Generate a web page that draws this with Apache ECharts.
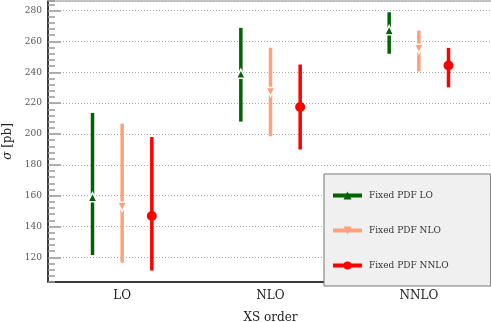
<!DOCTYPE html>
<html>
<head>
<meta charset="utf-8">
<script src="https://cdn.jsdelivr.net/npm/echarts@6/dist/echarts.min.js"></script>
<style>
  html, body { margin: 0; padding: 0; background: #fff; }
  #chart { width: 491px; height: 322px; }
</style>
</head>
<body>
<div id="chart"></div>
<script>
const categories = ['LO', 'NLO', 'NNLO']

// Fixed PDF LO
const loCenter = [159.0, 239.0, 267.3]
const loLow = [121.5, 208.0, 252.0]
const loHigh = [213.5, 268.8, 278.9]
// Fixed PDF NLO
const nloCenter = [152.8, 227.2, 255.2]
const nloLow = [116.6, 198.5, 240.5]
const nloHigh = [206.7, 255.9, 267.0]
// Fixed PDF NNLO
const nnloCenter = [146.8, 217.5, 244.4]
const nnloLow = [111.4, 189.9, 230.2]
const nnloHigh = [198.0, 245.0, 255.8]

const FONT = '"DejaVu Serif", "Liberation Serif", serif'
const Y_MIN = 104
const Y_MAX = 286.2

const groups = [
  { name: 'Fixed PDF LO', color: '#006400', symbol: 'triangle', rotate: 0, size: 9, border: 1.5, center: loCenter, low: loLow, high: loHigh, shift: -0.2 },
  { name: 'Fixed PDF NLO', color: '#ffa07a', symbol: 'triangle', rotate: 180, size: 9, border: 1.5, center: nloCenter, low: nloLow, high: nloHigh, shift: 0 },
  { name: 'Fixed PDF NNLO', color: '#ff0000', symbol: 'circle', rotate: 0, size: 10, border: 0, center: nnloCenter, low: nnloLow, high: nnloHigh, shift: 0.2 },
]

const series = []
groups.forEach(g => {
  // error bar
  series.push({
    type: 'custom',
    name: g.name + ' band',
    xAxisIndex: 1,
    yAxisIndex: 0,
    silent: true,
    z: 2,
    data: categories.map((c, i) => [i + g.shift, g.low[i], g.high[i]]),
    renderItem: (params, api) => {
      const p0 = api.coord([api.value(0), api.value(1)])
      const p1 = api.coord([api.value(0), api.value(2)])
      return {
        type: 'line',
        shape: { x1: p0[0], y1: p0[1], x2: p1[0], y2: p1[1] },
        style: { stroke: g.color, lineWidth: 3.5 },
      }
    },
  })
  // central value marker
  series.push({
    type: 'line',
    name: g.name,
    xAxisIndex: 1,
    yAxisIndex: 0,
    z: 3,
    data: categories.map((c, i) => [i + g.shift, g.center[i]]),
    symbol: g.symbol,
    symbolRotate: g.rotate,
    symbolSize: g.size,
    showAllSymbol: true,
    itemStyle: { color: g.color, borderColor: '#fff', borderWidth: g.border },
    lineStyle: { color: g.color, width: 4, opacity: 0 },
  })
})

const chart = echarts.init(document.getElementById('chart'))
chart.setOption({
  animation: false,
  textStyle: { fontFamily: FONT },
  grid: {
    left: 48, right: -2, top: 1, bottom: 40,
    containLabel: false, outerBoundsMode: 'none',
    show: true, borderColor: '#888', borderWidth: 1,
  },
  legend: {
    orient: 'vertical',
    left: 324,
    top: 174,
    padding: [17, 42, 16, 7],
    itemGap: 26,
    itemWidth: 29,
    itemHeight: 10,
    backgroundColor: '#f0f0f0',
    borderColor: '#777',
    borderWidth: 1,
    borderRadius: 0,
    data: groups.map(g => g.name),
    lineStyle: { width: 4, opacity: 1 },
    itemStyle: { borderWidth: 0 },
    textStyle: { fontFamily: FONT, fontSize: 9, color: '#333', padding: [8, 0, 0, 2] },
  },
  xAxis: [
    {
      type: 'category',
      data: categories,
      boundaryGap: true,
      name: 'XS order',
      nameLocation: 'middle',
      nameGap: 30,
      nameTextStyle: { fontFamily: FONT, fontSize: 12, color: '#222' },
      axisLine: { onZero: false, lineStyle: { color: '#111', width: 1.5 } },
      axisTick: { alignWithLabel: true, inside: true, length: 6, lineStyle: { color: '#999', width: 1.5 } },
      axisLabel: { fontFamily: FONT, fontSize: 12, color: '#222', margin: 8 },
      splitLine: { show: false },
    },
    { type: 'value', min: -0.5, max: 2.5, show: false },
  ],
  yAxis: [
    {
      // minor ticks every 4
      type: 'value',
      position: 'left',
      min: Y_MIN,
      max: Y_MAX,
      interval: 4,
      axisLine: { show: true, onZero: false, lineStyle: { color: '#111', width: 1.5 } },
      axisTick: { inside: true, length: 7, lineStyle: { color: '#999', width: 1.5 } },
      axisLabel: { show: false },
      splitLine: { show: false },
    },
    {
      // major ticks, labels and grid lines every 20
      type: 'value',
      position: 'left',
      offset: 0,
      min: Y_MIN,
      max: Y_MAX,
      splitNumber: 9,
      name: '{i|σ} [pb]',
      nameLocation: 'middle',
      nameGap: 28,
      nameRotate: 90,
      nameTextStyle: {
        fontFamily: FONT, fontSize: 12, color: '#222',
        rich: { i: { fontFamily: FONT, fontStyle: 'italic', fontSize: 12, color: '#222' } },
      },
      axisLine: { show: false, onZero: false },
      axisTick: { inside: true, length: 13, lineStyle: { color: '#999', width: 1.5 } },
      axisLabel: { fontFamily: FONT, fontSize: 9, color: '#555', margin: 6, showMinLabel: false, showMaxLabel: false },
      splitLine: { show: true, lineStyle: { color: '#aaa', type: [1, 2], width: 1 } },
    },
  ],
  series,
})
</script>
</body>
</html>
